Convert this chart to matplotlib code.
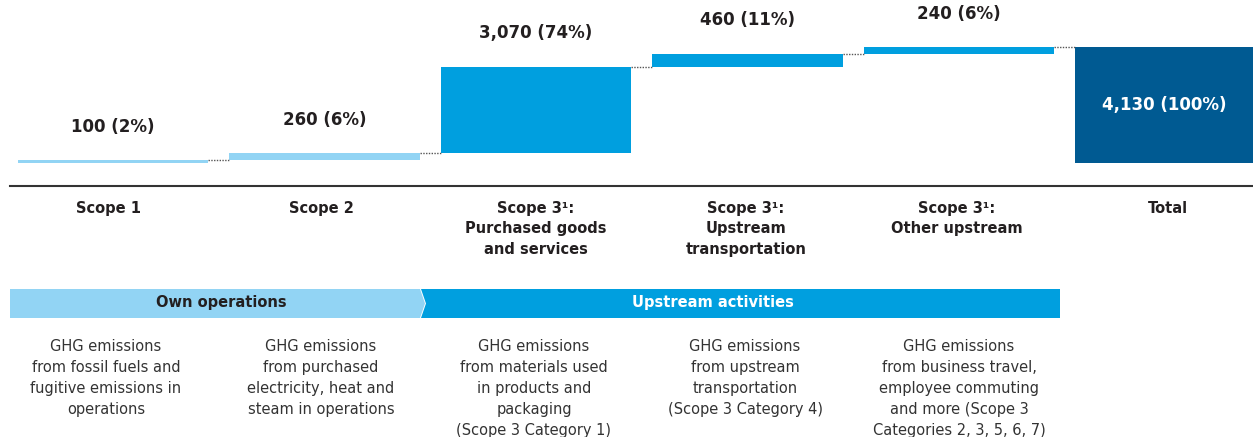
import matplotlib.pyplot as plt
from matplotlib.patches import Polygon

plt.rcParams['font.family'] = ['DejaVu Sans']

# data
categories = ['Scope 1', 'Scope 2', 'Scope 3¹:\nPurchased goods\nand services',
              'Scope 3¹:\nUpstream\ntransportation', 'Scope 3¹:\nOther upstream', 'Total']
values = [100, 260, 3070, 460, 240]
total = 4130
shares = ['2%', '6%', '74%', '11%', '6%']
total_share = '100%'
descriptions = ['GHG emissions\nfrom fossil fuels and\nfugitive emissions in\noperations',
                'GHG emissions\nfrom purchased\nelectricity, heat and\nsteam in operations',
                'GHG emissions\nfrom materials used\nin products and\npackaging\n(Scope 3 Category 1)',
                'GHG emissions\nfrom upstream\ntransportation\n(Scope 3 Category 4)',
                'GHG emissions\nfrom business travel,\nemployee commuting\nand more (Scope 3\nCategories 2, 3, 5, 6, 7)']
groups = ['Own operations', 'Upstream activities']

light = '#92D4F4'
mid = '#009FDF'
dark = '#005A92'
txt = '#231F20'
bar_colors = [light, light, mid, mid, mid]

W, H = 1253, 437
fig = plt.figure(figsize=(W / 100, H / 100), dpi=100)

# bar axes: top part of figure down to the baseline rule
ax = fig.add_axes([0, (H - 186) / H, 1, 186 / H])
ax.set_xlim(-113 / 211.5, (W - 113) / 211.5)
ax.set_ylim(-819, 5803)
ax.axis('off')

bw = 0.9
bottom = 0
for i, v in enumerate(values):
    ax.bar(i, v, bottom=bottom, width=bw, color=bar_colors[i])
    top = bottom + v
    ax.annotate(f'{v:,} ({shares[i]})', (i, top), xytext=(0, 24), textcoords='offset points',
                ha='center', va='center', fontsize=12, fontweight='bold', color=txt)
    # connector to next bar
    ax.plot([i + bw / 2, i + 1 - bw / 2], [top, top], color='#555555', lw=1,
            linestyle=(0, (1, 1)))
    bottom = top

n = len(values)
ax.bar(n, total, width=bw, color=dark)
ax.text(n - 0.03, total / 2, f'{total:,} ({total_share})', ha='center', va='center',
        fontsize=12, fontweight='bold', color='white')

# lower panel in pixel coordinates
lo = fig.add_axes([0, 0, 1, 1])
lo.set_xlim(0, W)
lo.set_ylim(H, 0)
lo.axis('off')
lo.plot([10, W], [186, 186], color='#333333', lw=1.5)

centers = [108, 321, 536, 746, 957, 1168]
for c, lab in zip(centers, categories):
    lo.text(c, 201, lab, ha='center', va='top', fontsize=10.5, fontweight='bold',
            color=txt, linespacing=1.45)

lo.add_patch(Polygon([(10, 289), (420, 289), (425, 303.5), (420, 318), (10, 318)],
                     closed=True, facecolor=light, edgecolor='none'))
lo.add_patch(Polygon([(421, 289), (1060, 289), (1060, 318), (421, 318), (426, 303.5)],
                     closed=True, facecolor=mid, edgecolor='none'))
lo.text(221, 303, groups[0], ha='center', va='center', fontsize=10.5, fontweight='bold', color=txt)
lo.text(713, 303, groups[1], ha='center', va='center', fontsize=10.5, fontweight='bold', color='white')

desc_centers = [106, 321, 534, 745, 959]
for c, d in zip(desc_centers, descriptions):
    lo.text(c, 339, d, ha='center', va='top', fontsize=10.5, color='#333333', linespacing=1.5)

fig.savefig('out.png', dpi=100)
